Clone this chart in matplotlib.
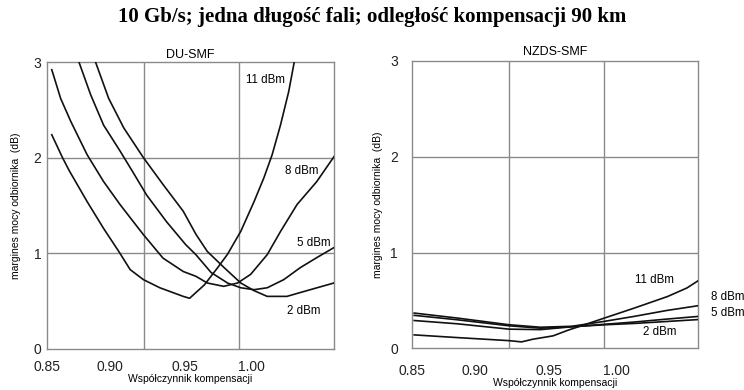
import matplotlib
matplotlib.use("Agg")
import matplotlib.pyplot as plt

plt.rcParams['font.family'] = ['Liberation Sans', 'DejaVu Sans']

title = '10 Gb/s; jedna długość fali; odległość kompensacji 90 km'
panel_titles = ['DU-SMF', 'NZDS-SMF']
xlabel = 'Współczynnik kompensacji'
ylabel = 'margines mocy odbiornika  (dB)'
xtick_pos = [0.848, 0.898, 0.957, 1.010]
xtick_labels = ['0.85', '0.90', '0.95', '1.00']
ytick_pos = [0, 1, 2, 3]
grid_x = [0.925, 1.0]
grid_y = [1, 2]

# DU-SMF
du_x_11 = [0.852, 0.8605, 0.866, 0.880, 0.893, 0.905, 0.914, 0.9245, 0.9375, 0.956, 0.961,
           0.9727, 0.9832, 0.991, 1.0015, 1.012, 1.0198, 1.0263, 1.0329, 1.0394, 1.0438]
du_y_11 = [2.24, 2.0, 1.86, 1.54, 1.26, 1.02, 0.83, 0.725, 0.64, 0.55, 0.53,
           0.67, 0.85, 0.99, 1.23, 1.54, 1.79, 2.03, 2.34, 2.69, 3.0]
du_x_8 = [0.852, 0.859, 0.867, 0.880, 0.893, 0.906, 0.9245, 0.940, 0.956, 0.966,
          0.975, 0.988, 0.999, 1.0093, 1.0224, 1.033, 1.046, 1.0616, 1.0752]
du_y_8 = [2.92, 2.62, 2.38, 2.03, 1.75, 1.51, 1.195, 0.95, 0.81, 0.76,
          0.69, 0.655, 0.69, 0.78, 0.986, 1.23, 1.51, 1.75, 2.01]
du_x_5 = [0.8735, 0.8827, 0.893, 0.906, 0.9166, 0.927, 0.9428, 0.958, 0.966, 0.978,
          0.991, 1.0015, 1.012, 1.0224, 1.0355, 1.0485, 1.0616, 1.0752]
du_y_5 = [3.0, 2.66, 2.34, 2.07, 1.84, 1.61, 1.33, 1.09, 0.986, 0.80,
          0.69, 0.64, 0.62, 0.64, 0.725, 0.85, 0.955, 1.06]
du_x_2 = [0.8866, 0.897, 0.909, 0.9245, 0.940, 0.956, 0.966, 0.975, 0.9884, 1.0015,
          1.012, 1.0224, 1.038, 1.0538, 1.0752]
du_y_2 = [3.0, 2.62, 2.31, 2.0, 1.72, 1.44, 1.2, 1.02, 0.85, 0.69,
          0.61, 0.55, 0.55, 0.61, 0.69]

# NZDS-SMF
nz_x = [0.85, 0.884, 0.925, 0.95, 0.975, 1.0, 1.025, 1.05, 1.075]
nz_y_8 = [0.368, 0.316, 0.246, 0.22, 0.23, 0.28, 0.335, 0.395, 0.445]
nz_y_5 = [0.344, 0.298, 0.235, 0.21, 0.225, 0.25, 0.275, 0.305, 0.333]
nz_y_2 = [0.29, 0.256, 0.20, 0.195, 0.225, 0.245, 0.26, 0.28, 0.30]
nz_x_11 = [0.85, 0.884, 0.925, 0.935, 0.944, 0.96, 0.972, 0.9824, 1.0007, 1.0243,
           1.0505, 1.066, 1.0754]
nz_y_11 = [0.14, 0.112, 0.08, 0.067, 0.095, 0.13, 0.19, 0.235, 0.316, 0.42,
           0.54, 0.63, 0.71]

du_labels = ['11 dBm', '8 dBm', '5 dBm', '2 dBm']
du_label_x = [1.021, 1.050, 1.0596, 1.0517]
du_label_y = [2.81, 1.86, 1.11, 0.40]
nz_labels = ['11 dBm', '8 dBm', '5 dBm', '2 dBm']
nz_label_x = [1.0407, 1.0848, 1.0848, 1.0447]
nz_label_y = [0.71, 0.54, 0.37, 0.17]
nz_label_ha = ['center', 'left', 'left', 'center']

fig = plt.figure(figsize=(7.44, 3.9), dpi=100)
ax1 = fig.add_axes([46.7 / 744, 41 / 390, 287 / 744, 287 / 390])
ax2 = fig.add_axes([411.7 / 744, 41.7 / 390, 286.6 / 744, 287.3 / 390])

for ax in [ax1, ax2]:
    ax.set_xlim(0.85, 1.075)
    ax.set_ylim(0, 3)
    for g in grid_x:
        ax.axvline(g, color='#8a8a8a', lw=1.0, zorder=1)
    for g in grid_y:
        ax.axhline(g, color='#8a8a8a', lw=1.0, zorder=1)
    for s in ax.spines.values():
        s.set_color('#8a8a8a')
        s.set_linewidth(1.0)
    ax.set_xticks(xtick_pos)
    ax.set_xticklabels(xtick_labels, fontsize=10, color='#222222')
    ax.set_yticks(ytick_pos)
    ax.set_yticklabels([str(t) for t in ytick_pos], fontsize=10, color='#222222')
    ax.tick_params(length=0)
    ax.set_xlabel(xlabel, fontsize=7.5, labelpad=0)
    ax.set_ylabel(ylabel, fontsize=7.5)

ax1.tick_params(axis='y', pad=4)
ax1.tick_params(axis='x', pad=8)
ax2.tick_params(axis='y', pad=10)
ax2.tick_params(axis='x', pad=11)
ax1.yaxis.set_label_coords(-0.09, 0.5)
ax2.yaxis.set_label_coords(-0.10, 0.5)
ax1.set_title(panel_titles[0], fontsize=9, pad=3)
ax2.set_title(panel_titles[1], fontsize=9, pad=4)

ax1.plot(du_x_11, du_y_11, color='#111111', lw=1.2, zorder=3)
ax1.plot(du_x_8, du_y_8, color='#111111', lw=1.2, zorder=3)
ax1.plot(du_x_5, du_y_5, color='#111111', lw=1.2, zorder=3)
ax1.plot(du_x_2, du_y_2, color='#111111', lw=1.2, zorder=3)
for i in range(0, len(du_labels)):
    ax1.text(du_label_x[i], du_label_y[i], du_labels[i], fontsize=8.3,
             ha='center', va='center', zorder=4)

ax2.plot(nz_x, nz_y_8, color='#111111', lw=1.2, zorder=3)
ax2.plot(nz_x, nz_y_5, color='#111111', lw=1.2, zorder=3)
ax2.plot(nz_x, nz_y_2, color='#111111', lw=1.2, zorder=3)
ax2.plot(nz_x_11, nz_y_11, color='#111111', lw=1.2, zorder=3)
for i in range(0, len(nz_labels)):
    ax2.text(nz_label_x[i], nz_label_y[i], nz_labels[i], fontsize=8.3,
             ha=nz_label_ha[i], va='center', zorder=4, clip_on=False)

fig.text(0.5, 1 - 17 / 390, title, ha='center', va='center', fontsize=15,
         fontweight='bold', family='Liberation Serif')

plt.savefig('out.png', dpi=100)
